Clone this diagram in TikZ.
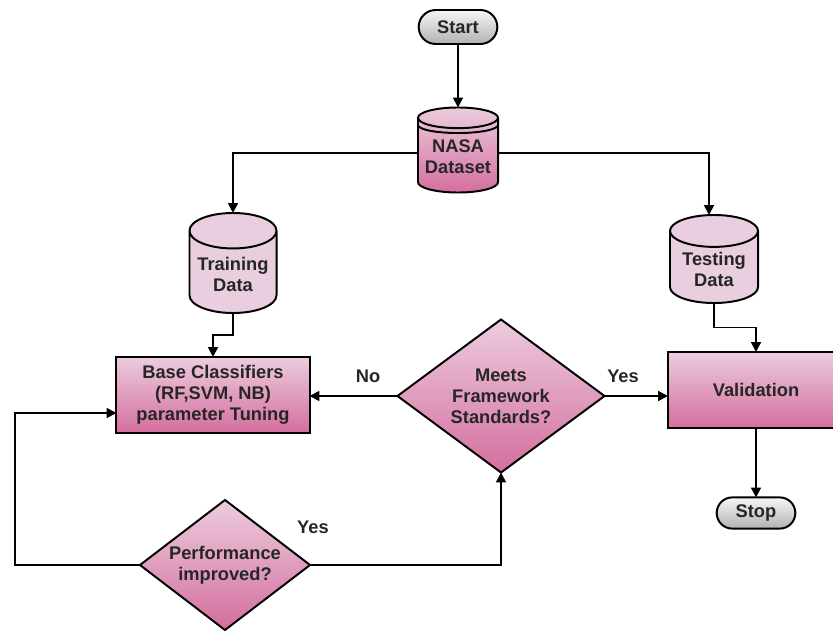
\documentclass[tikz,border=0pt]{standalone}
\usepackage{fontspec}
\setmainfont{Liberation Sans}
\usetikzlibrary{shapes.geometric,shapes.symbols,shapes.misc,arrows.meta,calc}
\definecolor{pinktop}{RGB}{236,204,222}
\definecolor{pinkbot}{RGB}{212,110,158}
\definecolor{pinkpale}{RGB}{232,206,222}
\definecolor{greytop}{RGB}{246,246,246}
\definecolor{greybot}{RGB}{178,178,178}
\tikzset{
  flowline/.style={line width=1.4pt},
  flowarrow/.style={line width=1.4pt,-{Triangle[length=7pt,width=7pt]}},
  boxtext/.style={font=\fontsize{13}{15}\selectfont\bfseries,align=center,text=black!85},
  termnode/.style={rounded rectangle,draw,line width=1.4pt,outer sep=0pt,
    top color=greytop,bottom color=greybot,boxtext},
  procnode/.style={rectangle,draw,line width=1.4pt,outer sep=0pt,
    top color=pinktop,bottom color=pinkbot,boxtext},
  decnode/.style={diamond,draw,line width=1.4pt,outer sep=0pt,inner sep=0pt,
    top color=pinktop,bottom color=pinkbot,boxtext},
  datanode/.style={cylinder,shape border rotate=90,aspect=0.48,draw,line width=1.4pt,
    outer sep=0pt,inner sep=1pt,anchor=shape center,boxtext},
  edgelabel/.style={font=\fontsize{13}{15}\selectfont\bfseries,text=black!85}
}
\begin{document}
\begin{tikzpicture}[x=0.025cm,y=-0.025cm]
\useasboundingbox (0,0) rectangle (833,630);%

% Drawing terminals
\node[termnode,minimum width=2.2cm,minimum height=0.85cm] (start) at (458,27) {Start};%
\node[termnode,minimum width=2.2cm,minimum height=0.78cm] (stop) at (756,513) {Stop};%

% Drawing data stores
\node[datanode,aspect=0.3,minimum width=2.0cm,minimum height=2.125cm,top color=pinktop,bottom color=pinkbot] (nasa) at (458,150) {NASA\\Dataset};%
\node[datanode,minimum width=2.175cm,minimum height=2.5cm,fill=pinkpale] (train) at (233,263) {Training\\Data};%
\node[datanode,minimum width=2.2cm,minimum height=2.2cm,fill=pinkpale] (test) at (714,259) {Testing\\Data};%

% Second rim of NASA Dataset
\draw[flowline] ([yshift=-0.18cm]nasa.west |- nasa.before top) arc[start angle=180,end angle=360,x radius=1cm,y radius=0.2cm];%

% Drawing process boxes
\node[procnode,minimum width=4.825cm,minimum height=1.9cm] (base) at (213,395) {Base Classifiers\\(RF,SVM, NB)\\parameter Tuning};%
\node[procnode,minimum width=4.4cm,minimum height=1.9cm] (valid) at (756,390) {Validation};%

% Drawing decisions
\node[decnode,aspect=1.35,minimum width=5.175cm,minimum height=3.825cm] (meets) at (501,396) {Meets\\Framework\\Standards?};%
\node[decnode,aspect=1.3,minimum width=4.25cm,minimum height=3.25cm] (perf) at (225,565) {Performance\\improved?};%

% Drawing connectors
\draw[flowarrow] (start) -- (nasa);%
\draw[flowarrow] ([yshift=0.1cm]nasa.west) -| (train.north);%
\draw[flowarrow] ([yshift=0.1cm]nasa.east) -| ([xshift=-0.125cm]test.north);%
\draw[flowarrow] (train.south) |- ($(train.south)!0.5!(base.north)$) -| (base.north);%
\draw[flowarrow] (test.south) |- ($(test.south)!0.5!(valid.north)$) -| (valid.north);%
\draw[flowarrow] (meets.west) -- (meets.west -| base.east);%
\draw[flowarrow] (meets.east) -- (meets.east -| valid.west);%
\draw[flowarrow] (valid.south) -- (stop.north);%
\coordinate (back) at (15,413);%
\draw[flowarrow] (perf.west) -| (back) -- (back -| base.west);%
\draw[flowarrow] (perf.east) -| (meets.south);%

% Marking labels
\node[edgelabel] (nolabel) at (368,376) {No};%
\node[edgelabel] (yeslabel) at (623,376) {Yes};%
\node[edgelabel] (yesloop) at (313,527) {Yes};%
\end{tikzpicture}
\end{document}
